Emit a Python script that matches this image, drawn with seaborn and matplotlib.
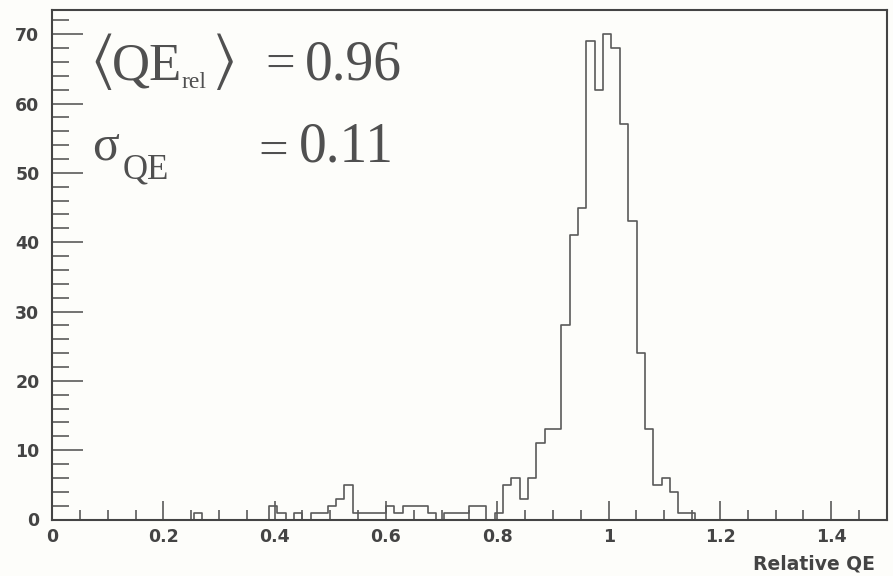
import numpy as np
import pandas as pd
import matplotlib
matplotlib.use("Agg")
import matplotlib.pyplot as plt
import seaborn as sns
from matplotlib.ticker import MultipleLocator

# ---- data -------------------------------------------------------------
x_min, x_max, n_bins = 0.0, 1.5, 100
counts = [
    0, 0, 0, 0, 0, 0, 0, 0, 0, 0,        # 0.000 - 0.150
    0, 0, 0, 0, 0, 0, 0, 1, 0, 0,        # 0.150 - 0.300
    0, 0, 0, 0, 0, 0, 2, 1, 0, 1,        # 0.300 - 0.450
    0, 1, 1, 2, 3, 5, 1, 1, 1, 1,        # 0.450 - 0.600
    2, 1, 2, 2, 2, 1, 0, 1, 1, 1,        # 0.600 - 0.750
    2, 2, 0, 1, 5, 6, 3, 6, 11, 13,      # 0.750 - 0.900
    13, 28, 41, 45, 69, 62, 70, 68, 57, 43,  # 0.900 - 1.050
    24, 13, 5, 6, 4, 1, 1, 0, 0, 0,      # 1.050 - 1.200
    0, 0, 0, 0, 0, 0, 0, 0, 0, 0,        # 1.200 - 1.350
    0, 0, 0, 0, 0, 0, 0, 0, 0, 0,        # 1.350 - 1.500
]
x_ticks = [0, 0.2, 0.4, 0.6, 0.8, 1.0, 1.2, 1.4]
x_tick_labels = ["0", "0.2", "0.4", "0.6", "0.8", "1", "1.2", "1.4"]
y_ticks = [0, 10, 20, 30, 40, 50, 60, 70]
x_label = "Relative QE"
mean_text = "0.96"
sigma_text = "0.11"

bin_w = (x_max - x_min) / n_bins
centers = x_min + bin_w * (np.arange(n_bins) + 0.5)
df = pd.DataFrame({"qe": centers, "n": np.asarray(counts, dtype=float)})

# ---- figure -----------------------------------------------------------
W, H = 893, 576
fig = plt.figure(figsize=(W / 100, H / 100), dpi=100)
bg = "#fdfdfa"
fig.patch.set_facecolor(bg)
ax = fig.add_axes([52 / W, 1 - 519.5 / H, (887 - 52) / W, (519.5 - 10) / H])
ax.set_facecolor(bg)

sns.histplot(data=df, x="qe", weights="n", bins=n_bins, binrange=(x_min, x_max),
             element="step", fill=False, color="#5a5a5a", linewidth=1.2, ax=ax)

ax.set_xlim(x_min, x_max)
ax.set_ylim(0, 73.5)
ax.set_ylabel("")
ax.set_xlabel("")

for s in ax.spines.values():
    s.set_color("#444444")
    s.set_linewidth(1.5)

tick_font = dict(family="DejaVu Sans", weight="bold", size=12.5)
ax.set_xticks(x_ticks)
ax.set_xticklabels(x_tick_labels, **tick_font, color="#444444")
ax.set_yticks(y_ticks)
ax.set_yticklabels([str(v) for v in y_ticks], **tick_font, color="#444444")
ax.xaxis.set_minor_locator(MultipleLocator(0.05))
ax.yaxis.set_minor_locator(MultipleLocator(2))
ax.tick_params(axis="x", which="major", direction="in", length=14, width=1.2,
               color="#5a5a5a", pad=6)
ax.tick_params(axis="x", which="minor", direction="in", length=7, width=1.2,
               color="#5a5a5a")
ax.tick_params(axis="y", which="major", direction="in", length=22, width=1.2,
               color="#5a5a5a", pad=9)
ax.tick_params(axis="y", which="minor", direction="in", length=12, width=1.2,
               color="#5a5a5a")

fig.text(875 / W, 1 - 570 / H, x_label, ha="right", va="baseline",
         family="DejaVu Sans", weight="bold", size=13.5, color="#444444")

# ---- annotation -------------------------------------------------------
plt.rcParams["mathtext.fontset"] = "stix"
tc = "#505050"
serif = "Liberation Serif"

def put(px, py, s, size, va="baseline", **kw):
    fig.text(px / W, 1 - py / H, s, ha="left", va=va, size=size, color=tc, **kw)

# line 1: <QE_rel> = 0.96
put(90, 61, r"$\langle$", 44, va="center")
put(112, 79, "QE", 38, family=serif)
put(182, 88, "rel", 17, family=serif)
put(212, 61, r"$\rangle$", 44, va="center")
put(265, 79, "=", 38, family=serif)
put(305, 80, mean_text, 40, family=serif)

# line 2: sigma_QE = 0.11
put(92, 160, "σ", 36, family=serif)
put(123, 178, "QE", 25, family=serif)
put(258, 166, "=", 38, family=serif)
put(299, 162, sigma_text, 40, family=serif)

fig.savefig("out.png", dpi=100, facecolor=bg)
